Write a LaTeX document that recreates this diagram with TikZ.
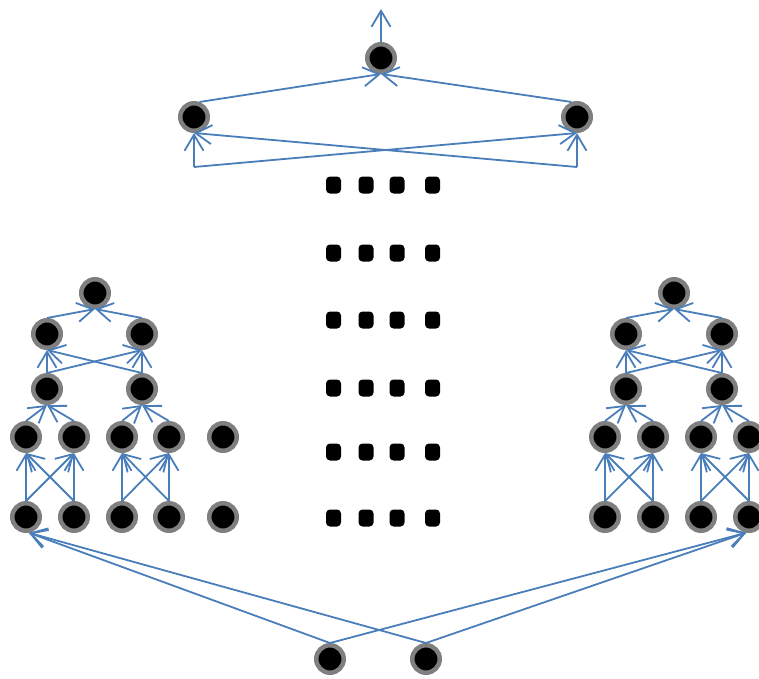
\documentclass[tikz,border=0pt]{standalone}
\usetikzlibrary{arrows.meta}
\definecolor{ringgray}{RGB}{127,127,127}
\definecolor{edgeblue}{RGB}{74,126,187}
\begin{document}
\begin{tikzpicture}[x=1pt,y=-1pt,
  neuron/.style={circle,fill=black,draw=ringgray,line width=4.5pt,minimum size=27.5pt,inner sep=0pt},
  dotbox/.style={rectangle,fill=black,rounded corners=4pt,minimum width=15pt,minimum height=17pt,inner sep=0pt},
  conn/.style={draw=edgeblue,line width=1.8pt,-{Straight Barb[length=16pt,width=19pt,line width=1.8pt]}}]
\clip (0,0) rectangle (759,678);
% top part
\node[neuron] (T) at (381,58) {};
\node[neuron] (L2a) at (194,117) {};
\node[neuron] (L2b) at (577,117) {};
\coordinate (out) at (381,9);
\coordinate (ca) at (194,167);
\coordinate (cb) at (577,167);
\draw[conn] (T.north) -- (out);
\draw[conn] (L2a.70) -- (T.south);
\draw[conn] (L2b.110) -- (T.south);
\draw[conn] (ca) -- (L2a.south);
\draw[conn] (ca) -- (L2b.south);
\draw[conn] (cb) -- (L2a.south);
\draw[conn] (cb) -- (L2b.south);
% dots
\foreach \r/\y in {1/185,2/253,3/320,4/388,5/452,6/518}{
  \foreach \c/\x in {1/333.5,2/366,3/397,4/432.5}{
    \node[dotbox] (d\r\c) at (\x,\y) {};
  }
}
% left tree
\node[neuron] (LT) at (95,293) {};
\node[neuron] (LA) at (47,334) {};
\node[neuron] (LB) at (142,334) {};
\node[neuron] (LC) at (47,389) {};
\node[neuron] (LD) at (142,389) {};
\foreach \i/\x in {1/26,2/74,3/122,4/169,5/223}{
  \node[neuron] (Lr\i) at (\x,437) {};
  \node[neuron] (Lb\i) at (\x,517) {};
}
\draw[conn] (LA.north) -- (LT.south);
\draw[conn] (LB.north) -- (LT.south);
\draw[conn] (LC.north) -- (LA.south);
\draw[conn] (LC.north) -- (LB.south);
\draw[conn] (LD.north) -- (LA.south);
\draw[conn] (LD.north) -- (LB.south);
\draw[conn] (Lr1.north) -- (LC.south);
\draw[conn] (Lr2.north) -- (LC.south);
\draw[conn] (Lr3.north) -- (LD.south);
\draw[conn] (Lr4.north) -- (LD.south);
\draw[conn] (Lb1.north) -- (Lr1.south);
\draw[conn] (Lb1.north) -- (Lr2.south);
\draw[conn] (Lb2.north) -- (Lr1.south);
\draw[conn] (Lb2.north) -- (Lr2.south);
\draw[conn] (Lb3.north) -- (Lr3.south);
\draw[conn] (Lb3.north) -- (Lr4.south);
\draw[conn] (Lb4.north) -- (Lr3.south);
\draw[conn] (Lb4.north) -- (Lr4.south);
% right tree
\node[neuron] (RT) at (674,293) {};
\node[neuron] (RA) at (626,334) {};
\node[neuron] (RB) at (722,334) {};
\node[neuron] (RC) at (626,389) {};
\node[neuron] (RD) at (722,389) {};
\foreach \i/\x in {1/605,2/653,3/701,4/749}{
  \node[neuron] (Rr\i) at (\x,437) {};
  \node[neuron] (Rb\i) at (\x,517) {};
}
\draw[conn] (RA.north) -- (RT.south);
\draw[conn] (RB.north) -- (RT.south);
\draw[conn] (RC.north) -- (RA.south);
\draw[conn] (RC.north) -- (RB.south);
\draw[conn] (RD.north) -- (RA.south);
\draw[conn] (RD.north) -- (RB.south);
\draw[conn] (Rr1.north) -- (RC.south);
\draw[conn] (Rr2.north) -- (RC.south);
\draw[conn] (Rr3.north) -- (RD.south);
\draw[conn] (Rr4.north) -- (RD.south);
\draw[conn] (Rb1.north) -- (Rr1.south);
\draw[conn] (Rb1.north) -- (Rr2.south);
\draw[conn] (Rb2.north) -- (Rr1.south);
\draw[conn] (Rb2.north) -- (Rr2.south);
\draw[conn] (Rb3.north) -- (Rr3.south);
\draw[conn] (Rb3.north) -- (Rr4.south);
\draw[conn] (Rb4.north) -- (Rr3.south);
\draw[conn] (Rb4.north) -- (Rr4.south);
% inputs
\node[neuron] (I1) at (330,659) {};
\node[neuron] (I2) at (426,659) {};
\draw[conn] (I1.north) -- (Lb1.-80);
\draw[conn] (I2.north) -- (Lb1.-80);
\draw[conn] (I1.north) -- (Rb4.-100);
\draw[conn] (I2.north) -- (Rb4.-100);
\end{tikzpicture}
\end{document}
